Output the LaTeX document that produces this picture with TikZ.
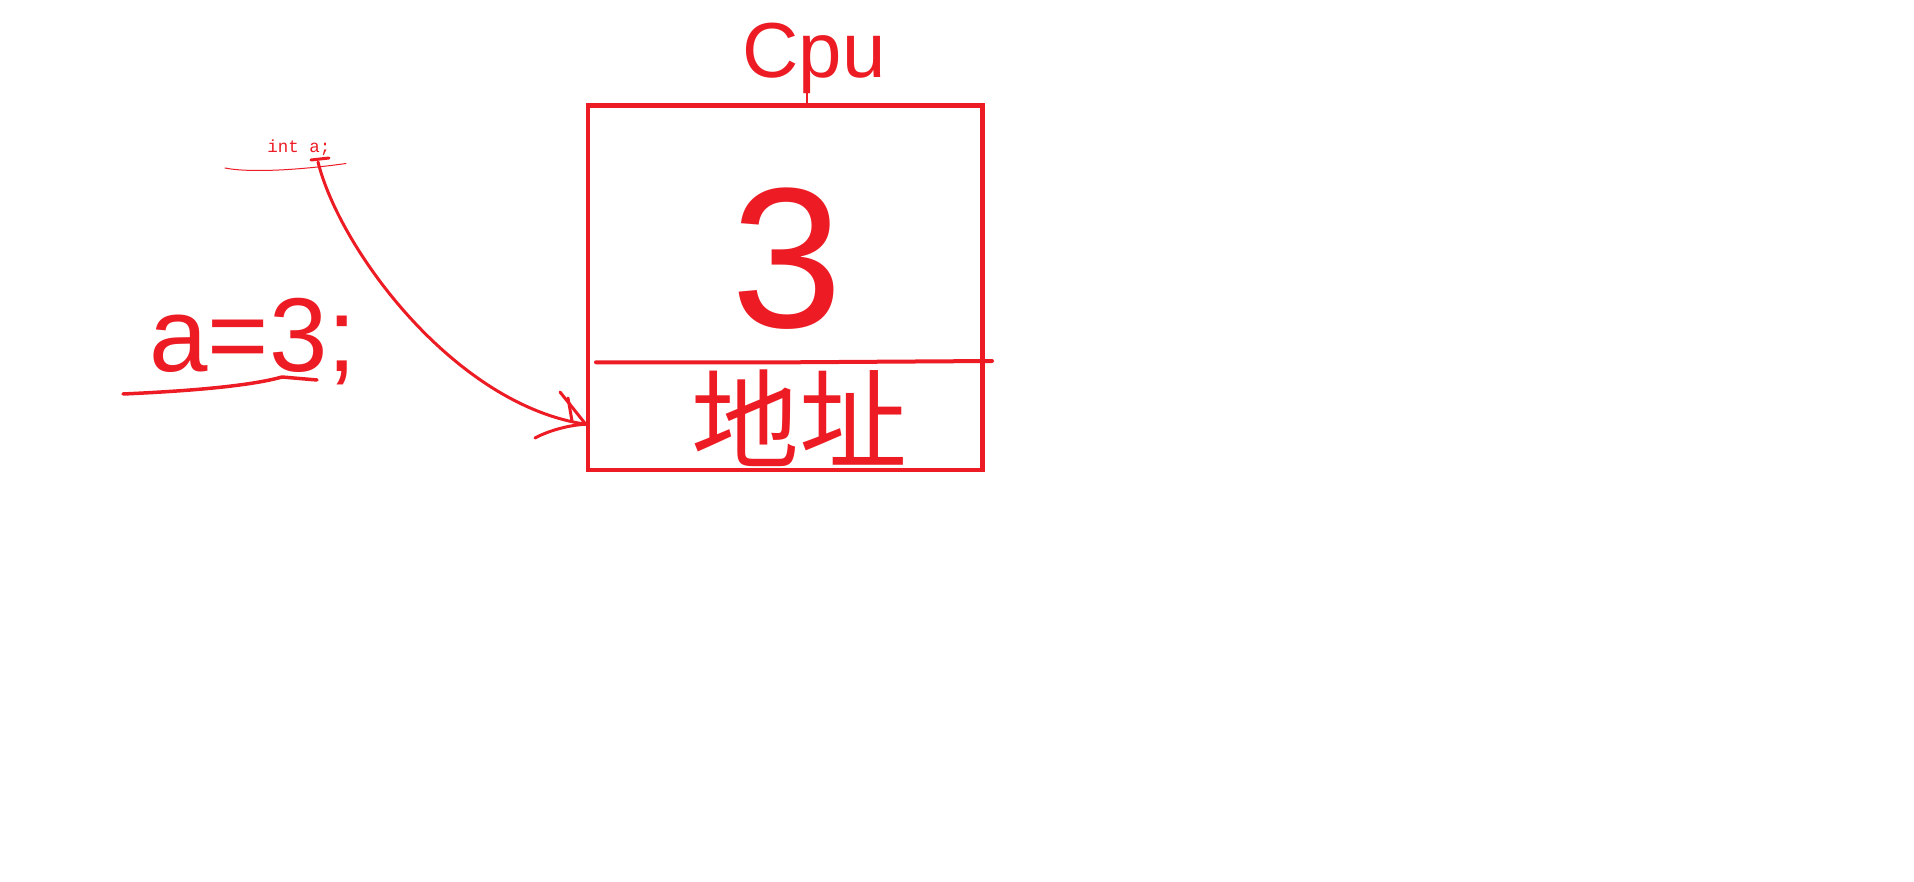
\documentclass[tikz,border=0pt]{standalone}
\usepackage{fontspec}
\setmainfont{Liberation Sans}
\newfontfamily\cjk{Noto Sans CJK SC}
\newfontfamily\monofam{Liberation Mono}
\usetikzlibrary{calc}
\definecolor{paintred}{RGB}{237,28,36}
\tikzset{
  pen/.style={draw=paintred, line width=3.5pt, line cap=round, line join=round},
  thinpen/.style={draw=paintred, line width=1pt, line cap=round},
  label/.style={text=paintred, inner sep=0pt},
}
\begin{document}
\begin{tikzpicture}[x=1pt,y=-1pt]
\fill[white] (0,0) rectangle (1914,882);
\useasboundingbox (0,0) rectangle (1914,882);

% memory box
\node[draw=paintred, line width=4.5pt, minimum width=394.5pt, minimum height=364.5pt, inner sep=0pt] (box) at (785.25,287.75) {};
\draw[pen, line width=4pt] (596,362.3) -- (793,362.3) -- (992,361);

% texts
\node[label, font=\fontsize{200}{200}\selectfont] (three) at (787,259) {3};
\node[label, font=\cjk\fontsize{108}{108}\selectfont] (addr) at (799,418) {地址};
\node[label, anchor=base, font=\fontsize{78}{78}\selectfont] (cpu) at (814,78) {Cpu};
\coordinate (cpufoot) at (807,92);
\draw[thinpen, line width=1.2pt] (box.north -| cpufoot) -- (cpufoot);

\node[label, anchor=base, font=\monofam\fontsize{17.5}{17.5}\selectfont] (inta) at (299,152.5) {int a;};
\draw[thinpen] (225,168) .. controls (250,173) and (300,170) .. (346,163.5);

\node[label, anchor=base, font=\fontsize{105}{105}\selectfont] (aeq) at (253,372) {a=3;};
\draw[pen] (123,394) .. controls (190,391) and (250,386) .. (282,377) -- (317,380);

% arrow from declaration to the address cell
\coordinate (arrowstart) at (318,162);
\coordinate (arrowend) at ($(box.south west)+(0,-48)$);
\draw[pen, line width=3pt] (311,160) -- (329,158);
\draw[pen, line width=3pt] (arrowstart) .. controls (340,250) and (455,405) .. (arrowend);
\draw[pen, line width=3pt] (560,392) -- (arrowend);
\draw[pen, line width=3pt] (568,398) -- (572,421);
\draw[pen, line width=3pt] (535,438) .. controls (550,430) and (570,425) .. (arrowend);
\end{tikzpicture}
\end{document}
